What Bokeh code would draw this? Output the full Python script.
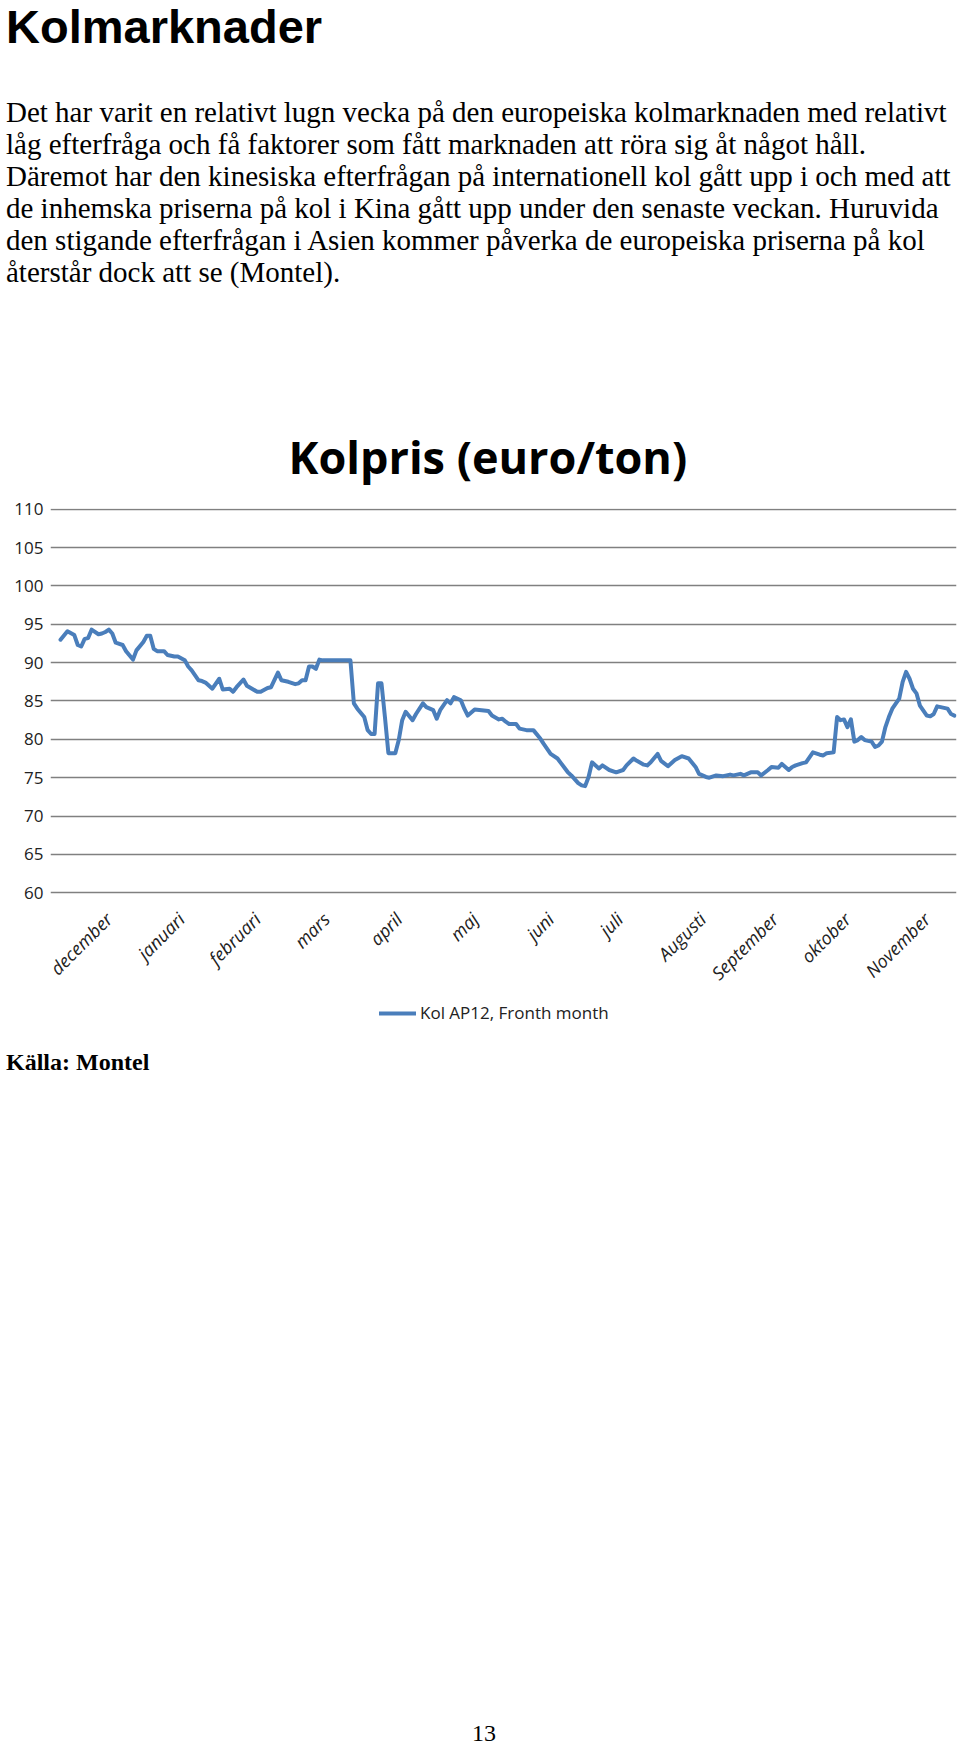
import math
from bokeh.plotting import figure
from bokeh.models import Div, Legend, LegendItem, FixedTicker, Range1d
from bokeh.layouts import column
from bokeh.embed import file_html
from bokeh.resources import INLINE

# ---- data (trading-day index, price in euro/ton) ----
day = [0, 2, 4, 5, 6, 7, 8, 9, 11, 12, 13, 14, 15, 16, 18, 19, 21, 22, 24, 25, 26, 27, 28, 30, 31, 33, 34, 36, 37, 38,
       40, 41, 42, 44, 46, 47, 49, 50, 51, 53, 54, 57, 58, 60, 61, 63, 64, 66, 68, 69, 70, 71, 72, 73, 74, 75, 76, 84, 85, 86,
       88, 89, 90, 91, 92, 93, 94, 95, 97, 98, 99, 100, 102, 103, 105, 106, 108, 109, 110, 112, 113, 114, 116, 117, 118, 120,
       122, 124, 125, 127, 128, 129, 130, 132, 133, 135, 137, 139, 140, 142, 144, 145, 147, 148, 150, 151, 152, 153, 154, 156,
       157, 159, 161, 163, 164, 166, 167, 169, 170, 171, 173, 174, 176, 178, 180, 182, 184, 185, 187, 188, 190, 192, 194, 195,
       197, 198, 200, 202, 203, 205, 206, 208, 209, 211, 212, 213, 215, 216, 218, 220, 221, 222, 224, 225, 226, 227, 228, 229,
       230, 231, 232, 233, 235, 236, 237, 238, 239, 240, 241, 243, 244, 245, 246, 247, 248, 249, 251, 252, 253, 254, 255, 257,
       258, 259]
price = [93.0, 94.1, 93.6, 92.3, 92.1, 93.1, 93.2, 94.3, 93.7, 93.8, 94.0, 94.3, 93.8, 92.6, 92.3, 91.5, 90.4, 91.6, 92.7, 93.5,
         93.5, 91.8, 91.5, 91.5, 91.0, 90.8, 90.8, 90.3, 89.5, 89.0, 87.7, 87.6, 87.4, 86.6, 87.9, 86.5, 86.6, 86.2, 86.8, 87.8,
         87.0, 86.2, 86.2, 86.7, 86.8, 88.7, 87.7, 87.5, 87.2, 87.3, 87.7, 87.7, 89.5, 89.5, 89.2, 90.4, 90.3, 90.3, 84.7, 84.0,
         82.9, 81.2, 80.7, 80.7, 87.3, 87.3, 82.9, 78.2, 78.2, 79.9, 82.5, 83.6, 82.5, 83.3, 84.7, 84.2, 83.8, 82.7, 83.8, 85.1,
         84.7, 85.5, 85.1, 84.0, 83.1, 83.9, 83.8, 83.7, 83.1, 82.6, 82.7, 82.3, 82.0, 82.0, 81.4, 81.2, 81.2, 80.1, 79.4, 78.1,
         77.5, 76.9, 75.7, 75.3, 74.3, 74.0, 73.9, 75.1, 77.0, 76.2, 76.6, 76.0, 75.7, 76.0, 76.6, 77.5, 77.2, 76.7, 76.6, 77.0,
         78.1, 77.2, 76.5, 77.3, 77.8, 77.5, 76.4, 75.5, 75.1, 75.0, 75.3, 75.2, 75.4, 75.3, 75.5, 75.3, 75.7, 75.7, 75.3, 76.0,
         76.4, 76.3, 76.8, 76.0, 76.4, 76.6, 76.9, 77.0, 78.3, 78.0, 77.9, 78.2, 78.3, 82.9, 82.5, 82.6, 81.6, 82.6, 79.7, 79.9,
         80.3, 79.9, 79.7, 79.0, 79.2, 79.7, 81.6, 82.9, 84.0, 85.3, 87.5, 88.8, 87.9, 86.6, 86.0, 84.4, 83.1, 83.0, 83.3, 84.3,
         84.2, 84.0, 83.3, 83.1]

month_ticks = [14, 35, 57, 77, 98, 120, 142, 162, 186, 207, 228, 251]
month_labels = ["december", "januari", "februari", "mars", "april", "maj", "juni", "juli",
                "Augusti", "September", "oktober", "November"]
y_ticks = [60, 65, 70, 75, 80, 85, 90, 95, 100, 105, 110]

series_name = "Kol AP12, Fronth month"
chart_title = "Kolpris (euro/ton)"
heading = "Kolmarknader"
body_lines = [
    "Det har varit en relativt lugn vecka på den europeiska kolmarknaden med relativt",
    "låg efterfråga och få faktorer som fått marknaden att röra sig åt något håll.",
    "Däremot har den kinesiska efterfrågan på internationell kol gått upp i och med att",
    "de inhemska priserna på kol i Kina gått upp under den senaste veckan. Huruvida",
    "den stigande efterfrågan i Asien kommer påverka de europeiska priserna på kol",
    "återstår dock att se (Montel).",
]
source = "Källa: Montel"
page_no = "13"

# ---- top text ----
top_html = (
    '<div style="position:relative;width:960px;height:400px;background:#ffffff;">'
    '<div style="position:absolute;left:6px;top:0px;font-family:\'Liberation Sans\',Arial,sans-serif;'
    'font-weight:bold;font-size:47px;line-height:53px;white-space:nowrap;color:#000;">' + heading + '</div>'
    '<div style="position:absolute;left:6px;top:96px;font-family:\'Liberation Serif\',serif;'
    'font-size:29px;line-height:32px;white-space:nowrap;color:#000;">' + "<br>".join(body_lines) + '</div>'
    '</div>'
)
top = Div(text=top_html, width=960, height=400, margin=0)

# ---- chart ----
# the frame reaches down far enough to hold the legend; the x axis sits on the 60 line
p = figure(frame_width=906, frame_height=537,
           x_range=Range1d(-2.9, day[-1] + 0.6), y_range=Range1d(40.08, 110.1),
           output_backend="svg", toolbar_location=None,
           min_border_left=50, min_border_right=4, min_border_top=108, min_border_bottom=100)
p.background_fill_color = "white"
p.border_fill_color = "white"
p.outline_line_color = None

p.title.text = chart_title
p.title.text_font = "Open Sans"
p.title.text_font_style = "bold"
p.title.text_font_size = "45px"
p.title.text_color = "#000000"
p.title.align = "left"
p.title.offset = 238
p.title.standoff = 43

p.xgrid.visible = False
p.ygrid.ticker = FixedTicker(ticks=y_ticks)
p.ygrid.grid_line_color = "#808080"
p.ygrid.grid_line_width = 1.6

p.yaxis.ticker = FixedTicker(ticks=y_ticks)
p.yaxis.axis_line_color = None
p.yaxis.major_tick_line_color = None
p.yaxis.minor_tick_line_color = None
p.yaxis.major_tick_out = 0
p.yaxis.major_tick_in = 0
p.yaxis.major_label_text_font = "Open Sans"
p.yaxis.major_label_text_font_size = "17px"
p.yaxis.major_label_text_color = "#222222"
p.yaxis.major_label_standoff = 7

p.xaxis.fixed_location = y_ticks[0]
p.xaxis.ticker = FixedTicker(ticks=month_ticks)
p.xaxis.major_label_overrides = {t: l for t, l in zip(month_ticks, month_labels)}
p.xaxis.major_label_orientation = math.pi / 4
p.xaxis.axis_line_color = None
p.xaxis.major_tick_line_color = None
p.xaxis.minor_tick_line_color = None
p.xaxis.major_label_text_font = "Open Sans"
p.xaxis.major_label_text_font_style = "italic"
p.xaxis.major_label_text_font_size = "18px"
p.xaxis.major_label_text_color = "#222222"
p.xaxis.major_label_standoff = 17

r = p.line(day, price, line_color="#4a7ebb", line_width=4, line_join="round", line_cap="round")

legend = Legend(items=[LegendItem(label=series_name, renderers=[r])], orientation="horizontal",
                location=(329, 21), border_line_color=None, background_fill_alpha=0,
                label_text_font="Open Sans", label_text_font_size="17px", label_text_color="#222222",
                glyph_width=37, glyph_height=20, label_standoff=4, padding=6, margin=0)
p.add_layout(legend, "center")

# ---- bottom text ----
bottom_html = (
    '<div style="position:relative;width:960px;height:697px;">'
    '<div style="position:absolute;left:6px;top:0px;font-family:\'Liberation Serif\',serif;font-weight:bold;'
    'font-size:24px;line-height:24px;white-space:nowrap;color:#000;">' + source + '</div>'
    '<div style="position:absolute;left:472px;top:671px;font-family:\'Liberation Serif\',serif;'
    'font-size:24px;line-height:24px;white-space:nowrap;color:#000;">' + page_no + '</div>'
    '</div>'
)
bottom = Div(text=bottom_html, width=960, height=697, margin=(-95, 0, 0, 0))

layout = column(top, p, bottom, spacing=0)
open("out.html", "w").write(file_html(layout, INLINE))
